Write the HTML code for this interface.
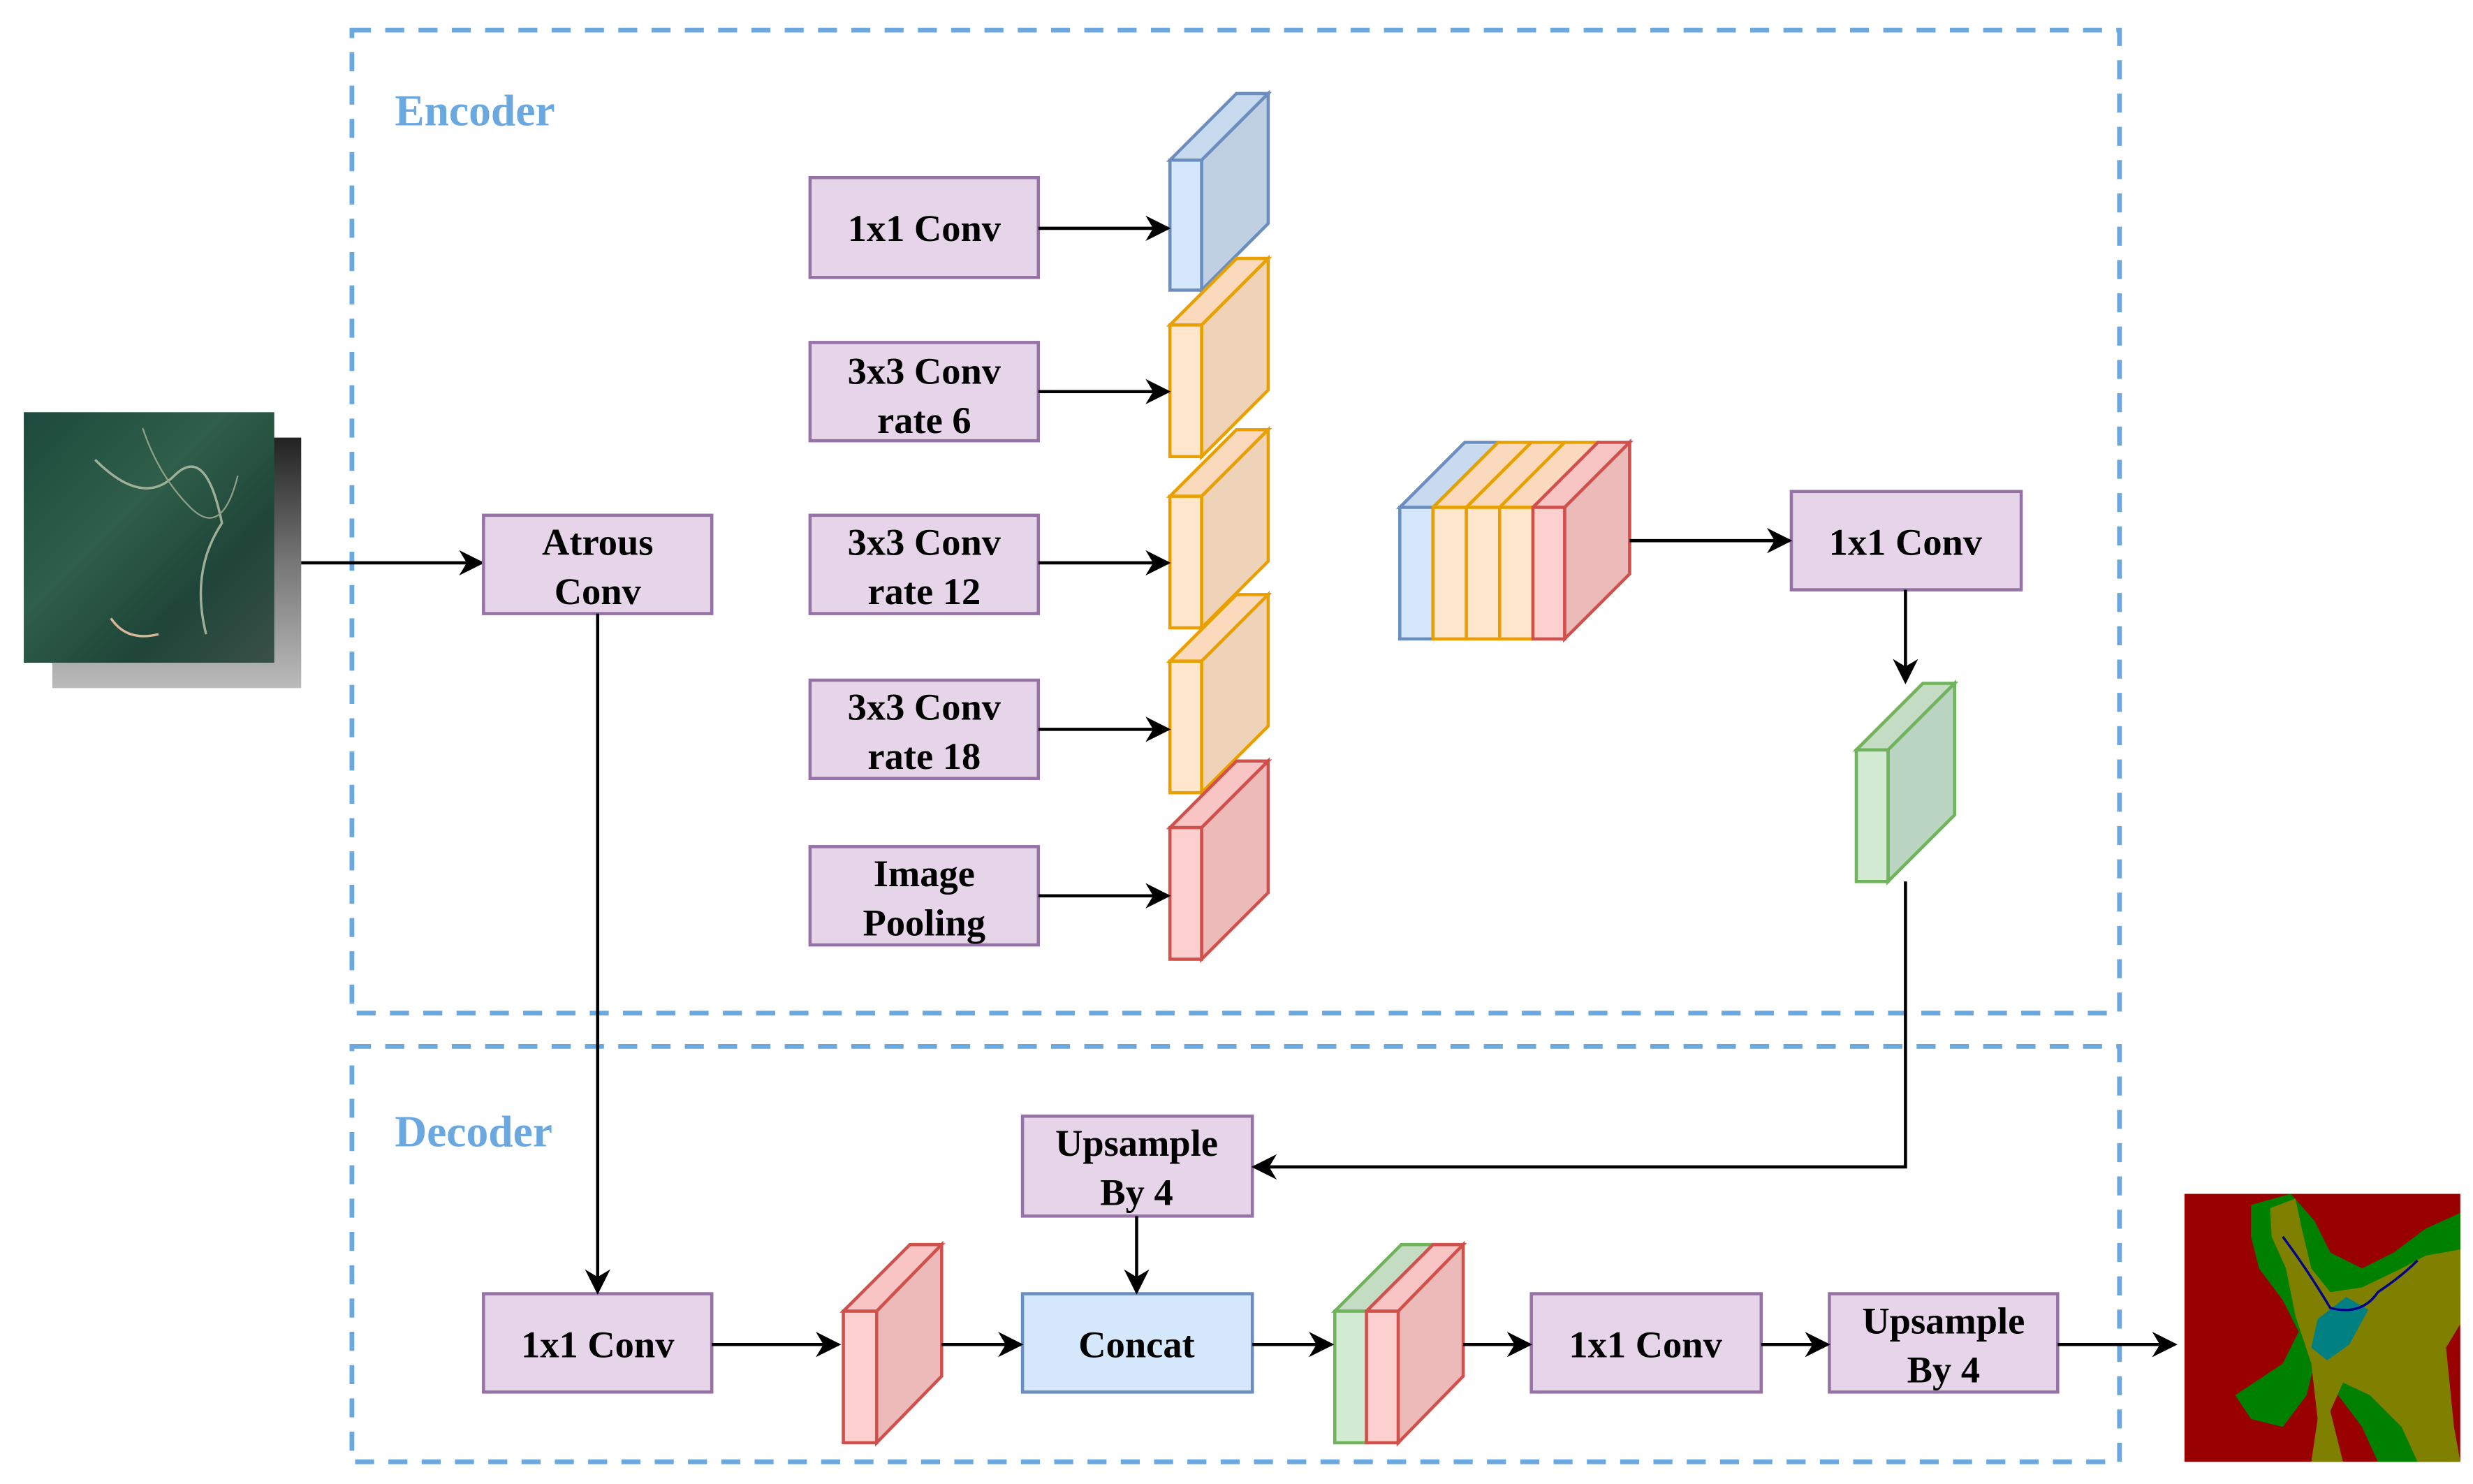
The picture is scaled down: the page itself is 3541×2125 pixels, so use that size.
<!DOCTYPE html>
<html><head><meta charset="utf-8"><style>
html,body{margin:0;padding:0;background:#fff;}
svg{display:block;}
text{font-family:"Liberation Serif",serif;font-weight:bold;}
</style></head><body>
<svg width="3541" height="2125" viewBox="0 0 1560 936" preserveAspectRatio="none" xmlns="http://www.w3.org/2000/svg">
<defs>
<marker id="b" viewBox="0 0 10 10" refX="9" refY="5" markerWidth="16" markerHeight="16" orient="auto" markerUnits="userSpaceOnUse">
<path d="M0,0 L10,5 L0,10 L3,5 z" fill="#000"/></marker>
<linearGradient id="sat" x1="0" y1="0" x2="1" y2="1">
<stop offset="0" stop-color="#1d4a3c"/><stop offset="0.4" stop-color="#2f5e4a"/><stop offset="0.7" stop-color="#1f4538"/><stop offset="1" stop-color="#3a5048"/></linearGradient>
<linearGradient id="sh" x1="0" y1="0" x2="0" y2="1">
<stop offset="0" stop-color="#222"/><stop offset="0.5" stop-color="#777"/><stop offset="1" stop-color="#bbb"/></linearGradient>
</defs>

<rect x="222" y="19" width="1115" height="620" fill="none" stroke="#6ca8e0" stroke-width="3" stroke-dasharray="12 9"/>
<rect x="222" y="660" width="1115" height="262" fill="none" stroke="#6ca8e0" stroke-width="3" stroke-dasharray="12 9"/>
<text x="249" y="79" font-size="28" fill="#6ca8e0">Encoder</text>
<text x="249" y="723" font-size="28" fill="#6ca8e0">Decoder</text>

<rect x="33" y="276" width="157" height="158" fill="url(#sh)"/>
<rect x="15" y="260" width="158" height="158" fill="url(#sat)"/>
<path d="M60,290 Q90,320 110,300 T140,330 Q120,360 130,400" stroke="#9fb09a" stroke-width="1.5" fill="none"/>
<path d="M90,270 Q100,300 120,320 T150,300" stroke="#8fa08a" stroke-width="1" fill="none"/>
<path d="M70,390 Q80,405 100,400" stroke="#d9b89a" stroke-width="1.5" fill="none"/>
<line x1="190" y1="355" x2="304" y2="355" stroke="#000" stroke-width="2" marker-end="url(#b)"/>

<g stroke="#9673a6" stroke-width="2" fill="#e6d5e8">
<rect x="305" y="325" width="144" height="62"/>
<rect x="305" y="816" width="144" height="62"/>
<rect x="511" y="112" width="144" height="63"/>
<rect x="511" y="216" width="144" height="62"/>
<rect x="511" y="325" width="144" height="62"/>
<rect x="511" y="429" width="144" height="62"/>
<rect x="511" y="534" width="144" height="62"/>
<rect x="1130" y="310" width="145" height="62"/>
<rect x="645" y="704" width="145" height="63"/>
<rect x="966" y="816" width="145" height="62"/>
<rect x="1154" y="816" width="144" height="62"/>
</g>
<rect x="645" y="816" width="145" height="62" fill="#d4e7fb" stroke="#6c8ebf" stroke-width="2"/>

<g font-size="24" text-anchor="middle" fill="#000">
<text x="377" y="350">Atrous</text><text x="377" y="381">Conv</text>
<text x="377" y="856">1x1 Conv</text>
<text x="583" y="152">1x1 Conv</text>
<text x="583" y="242">3x3 Conv</text><text x="583" y="273">rate 6</text>
<text x="583" y="350">3x3 Conv</text><text x="583" y="381">rate 12</text>
<text x="583" y="454">3x3 Conv</text><text x="583" y="485">rate 18</text>
<text x="583" y="559">Image</text><text x="583" y="590">Pooling</text>
<text x="1202" y="350">1x1 Conv</text>
<text x="717" y="729">Upsample</text><text x="717" y="760">By 4</text>
<text x="717" y="856">Concat</text>
<text x="1038" y="856">1x1 Conv</text>
<text x="1226" y="841">Upsample</text><text x="1226" y="872">By 4</text>
</g>

<g stroke-width="2" stroke-linejoin="miter">
<path d="M738,101 L780,59 L800,59 L758,101 z" fill="#c8daee" stroke="#6c8ebf"/>
<path d="M758,101 L800,59 L800,141 L758,183 z" fill="#c0d0e3" stroke="#6c8ebf"/>
<rect x="738" y="101" width="20" height="82" fill="#d4e7fb" stroke="#6c8ebf"/>
<path d="M738,205 L780,163 L800,163 L758,205 z" fill="#fad9bd" stroke="#e8a000"/>
<path d="M758,205 L800,163 L800,246 L758,288 z" fill="#eed3b8" stroke="#e8a000"/>
<rect x="738" y="205" width="20" height="83" fill="#ffe6cc" stroke="#e8a000"/>
<path d="M738,313 L780,271 L800,271 L758,313 z" fill="#fad9bd" stroke="#e8a000"/>
<path d="M758,313 L800,271 L800,354 L758,396 z" fill="#eed3b8" stroke="#e8a000"/>
<rect x="738" y="313" width="20" height="83" fill="#ffe6cc" stroke="#e8a000"/>
<path d="M738,417 L780,375 L800,375 L758,417 z" fill="#fad9bd" stroke="#e8a000"/>
<path d="M758,417 L800,375 L800,458 L758,500 z" fill="#eed3b8" stroke="#e8a000"/>
<rect x="738" y="417" width="20" height="83" fill="#ffe6cc" stroke="#e8a000"/>
<path d="M738,522 L780,480 L800,480 L758,522 z" fill="#f8c4c4" stroke="#d0504c"/>
<path d="M758,522 L800,480 L800,563 L758,605 z" fill="#ecbab8" stroke="#d0504c"/>
<rect x="738" y="522" width="20" height="83" fill="#fdd0d0" stroke="#d0504c"/>

<path d="M883,320 L924,279 L945,279 L904,320 z" fill="#c8daee" stroke="#6c8ebf"/>
<path d="M904,320 L945,279 L966,279 L925,320 z" fill="#fad9bd" stroke="#e8a000"/>
<path d="M925,320 L966,279 L987,279 L946,320 z" fill="#fad9bd" stroke="#e8a000"/>
<path d="M946,320 L987,279 L1008,279 L967,320 z" fill="#fad9bd" stroke="#e8a000"/>
<path d="M967,320 L1008,279 L1028,279 L987,320 z" fill="#f8c4c4" stroke="#d0504c"/>
<path d="M987,320 L1028,279 L1028,362 L987,403 z" fill="#ecbab8" stroke="#d0504c"/>
<rect x="883" y="320" width="21" height="83" fill="#d4e7fb" stroke="#6c8ebf"/>
<rect x="904" y="320" width="21" height="83" fill="#ffe6cc" stroke="#e8a000"/>
<rect x="925" y="320" width="21" height="83" fill="#ffe6cc" stroke="#e8a000"/>
<rect x="946" y="320" width="21" height="83" fill="#ffe6cc" stroke="#e8a000"/>
<rect x="967" y="320" width="20" height="83" fill="#fdd0d0" stroke="#d0504c"/>

<path d="M1171,473 L1213,431 L1233,431 L1191,473 z" fill="#c4dcc4" stroke="#6fb35a"/>
<path d="M1191,473 L1233,431 L1233,514 L1191,556 z" fill="#b9d4c0" stroke="#6fb35a"/>
<rect x="1171" y="473" width="20" height="83" fill="#d3ead3" stroke="#6fb35a"/>

<path d="M532,827 L574,785 L594,785 L553,827 z" fill="#f8c4c4" stroke="#d0504c"/>
<path d="M553,827 L594,785 L594,868 L553,910 z" fill="#ecbab8" stroke="#d0504c"/>
<rect x="532" y="827" width="21" height="83" fill="#fdd0d0" stroke="#d0504c"/>

<path d="M842,827 L884,785 L904,785 L862,827 z" fill="#c4dcc4" stroke="#6fb35a"/>
<path d="M862,827 L904,785 L923,785 L882,827 z" fill="#f8c4c4" stroke="#d0504c"/>
<path d="M882,827 L923,785 L923,868 L882,910 z" fill="#ecbab8" stroke="#d0504c"/>
<rect x="842" y="827" width="20" height="83" fill="#d3ead3" stroke="#6fb35a"/>
<rect x="862" y="827" width="20" height="83" fill="#fdd0d0" stroke="#d0504c"/>
</g>

<g stroke="#000" stroke-width="2" fill="none">
<line x1="655" y1="144" x2="737" y2="144" marker-end="url(#b)"/>
<line x1="655" y1="247" x2="737" y2="247" marker-end="url(#b)"/>
<line x1="655" y1="355" x2="737" y2="355" marker-end="url(#b)"/>
<line x1="655" y1="460" x2="737" y2="460" marker-end="url(#b)"/>
<line x1="655" y1="565" x2="737" y2="565" marker-end="url(#b)"/>
<line x1="1028" y1="341" x2="1129" y2="341" marker-end="url(#b)"/>
<line x1="1202" y1="372" x2="1202" y2="430" marker-end="url(#b)"/>
<polyline points="1202,556 1202,736 791,736" marker-end="url(#b)"/>
<line x1="377" y1="387" x2="377" y2="815" marker-end="url(#b)"/>
<line x1="717" y1="767" x2="717" y2="815" marker-end="url(#b)"/>
<line x1="449" y1="848" x2="529" y2="848" marker-end="url(#b)"/>
<line x1="594" y1="848" x2="644" y2="848" marker-end="url(#b)"/>
<line x1="790" y1="848" x2="840" y2="848" marker-end="url(#b)"/>
<line x1="923" y1="848" x2="965" y2="848" marker-end="url(#b)"/>
<line x1="1111" y1="848" x2="1153" y2="848" marker-end="url(#b)"/>
<line x1="1298" y1="848" x2="1372" y2="848" marker-end="url(#b)"/>
</g>

<rect x="1378" y="753" width="174" height="169" fill="#990000"/>
<path d="M1420,760 L1445,753 L1460,770 L1470,790 L1490,800 L1510,790 L1530,775 L1552,765 L1552,815 L1535,830 L1530,860 L1540,880 L1545,922 L1500,922 L1490,900 L1475,880 L1460,860 L1455,880 L1440,900 L1420,895 L1410,880 L1440,860 L1450,840 L1440,820 L1425,800 L1420,780 z" fill="#008000"/>
<path d="M1432,762 L1448,756 L1452,775 L1458,800 L1470,815 L1490,812 L1515,800 L1530,792 L1552,788 L1552,835 L1543,850 L1548,900 L1552,922 L1525,922 L1515,900 L1495,880 L1478,872 L1470,890 L1478,922 L1458,922 L1462,895 L1458,860 L1448,830 L1442,800 L1433,780 z" fill="#808000"/>
<path d="M1462,832 L1480,818 L1494,826 L1482,848 L1468,858 L1458,850 z" fill="#008080"/>
<path d="M1440,780 Q1455,800 1470,825 Q1490,830 1500,815 Q1515,805 1525,795" stroke="#00008b" stroke-width="1.5" fill="none"/>
</svg>
</body></html>
